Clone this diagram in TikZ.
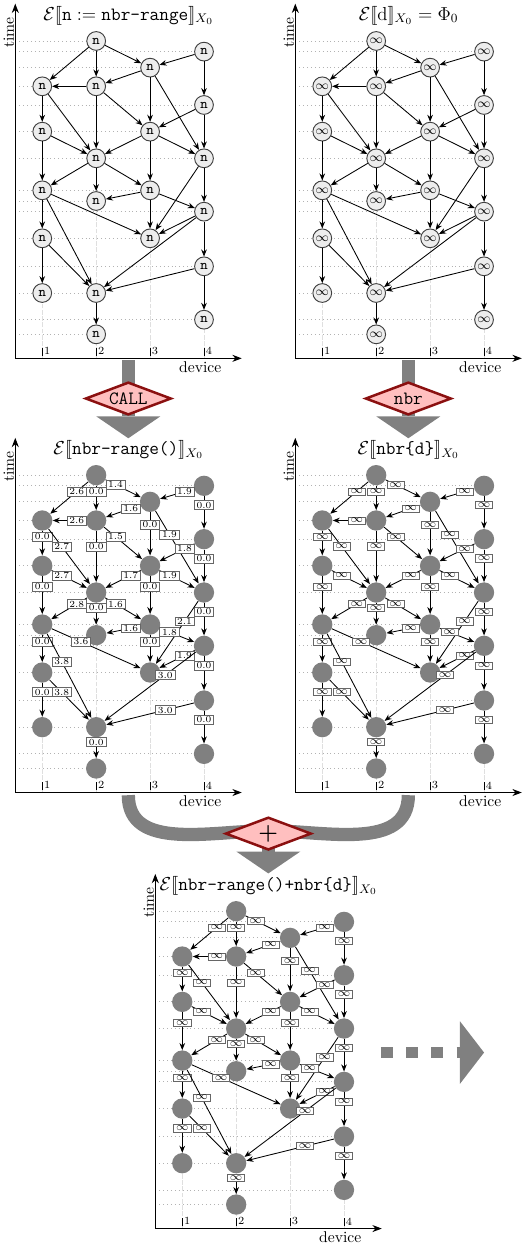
\documentclass[tikz,border=0pt]{standalone}
\usepackage{tikz}
\usetikzlibrary{arrows.meta,shapes.geometric}
\definecolor{OpRed}{HTML}{8B1010}
\definecolor{OpPink}{HTML}{FFBFBF}
\definecolor{Flow}{HTML}{808080}

\tikzset{
  evopen/.style={circle,draw=black!75,fill=black!7,line width=0.6pt,minimum size=12pt,inner sep=0pt},
  evfull/.style={circle,fill=Flow,minimum size=13pt,inner sep=0pt},
  ev/.style={-{Stealth[length=4.5pt,width=3.6pt]},line width=0.55pt},
  lbl/.style={draw=black!60,fill=white,line width=0.4pt,inner xsep=1.5pt,inner ysep=0.8pt,
    font=\fontsize{6}{7}\selectfont},
  axisarr/.style={-{Stealth[length=6pt,width=4.5pt]},line width=0.6pt},
  rowline/.style={dotted,gray!60,line width=0.5pt},
  devline/.style={gray!25,line width=0.5pt,dash pattern=on 3pt off 1pt},
  op/.style={diamond,aspect=2.5,draw=OpRed,fill=OpPink,line width=1.6pt,inner sep=0pt,
    minimum width=55pt,minimum height=21pt,font=\large\ttfamily},
  flow/.style={draw=Flow,line width=8.5pt,-{Triangle[width=41pt,length=14pt,line width=0pt]}},
  band/.style={draw=Flow,line width=8.5pt}
}

% events: name/device/height
\newcommand{\evlist}{b1/1.5/11.9, d1/3.5/11.5, c1/2.5/10.9, a1/0.5/10.2, b2/1.5/10.2,
  d2/3.5/9.5, a2/0.5/8.5, c2/2.5/8.5, b3/1.5/7.5, d3/3.5/7.5, a3/0.5/6.3, c3/2.5/6.3,
  b4/1.5/5.9, d4/3.5/5.5, a4/0.5/4.5, c4/2.5/4.5, d5/3.5/3.45, a5/0.5/2.45, b5/1.5/2.45,
  d6/3.5/1.45, b6/1.5/0.9}
% messages: from/to/distance
\newcommand{\edgelist}{b1/c1/1.4, b1/b2/0.0, b1/a1/2.6, d1/c1/1.9, d1/d2/0.0, c1/b2/1.6,
  c1/c2/0.0, c1/d3/1.9, b2/a1/2.6, b2/c2/1.5, b2/b3/0.0, a1/a2/0.0, a1/b3/2.7, d2/c2/1.8,
  d2/d3/0.0, a2/b3/2.7, a2/a3/0.0, c2/b3/1.7, c2/c3/0.0, c2/d3/1.9, b3/a3/2.8, b3/b4/0.0,
  b3/c3/1.6, d3/d4/0.0, d3/c4/2.1, c3/b4/1.6, c3/c4/0.0, c3/d4/1.8, a3/a4/0.0, a3/c4/3.6,
  a3/b5/3.8, d4/c4/1.9, d4/b5/3.0, d4/d5/0.0, a4/a5/0.0, a4/b5/3.8, d5/b5/3.0, d5/d6/0.0,
  b5/b6/0.0}

% #1 origin, #2 title, #3 event style, #4 event text, #5 message label
\newcommand{\evpanel}[5]{%
  \begin{scope}[shift={#1},x=1.213cm,y=0.6cm]
    % rows and device columns
    \foreach \nm/\dv/\tm in \evlist
      \draw[rowline] (0,\tm) -- (\dv,\tm);
    \foreach \dv/\tm in {0.5/10.2,1.5/11.9,2.5/10.9,3.5/11.5}
      \draw[devline] (\dv,0) -- (\dv,\tm);
    % axes
    \draw[axisarr] (0,0) -- (0,13.3);
    \draw[axisarr] (0,0) -- (4.2,0);
    \foreach \i in {1,...,4}{
      \draw[line width=0.5pt] (\i-0.5,0.08) -- (\i-0.5,0.38);
      \node[right,inner sep=1pt,font=\scriptsize] (tk\i) at (\i-0.5,0.27) {\i};
    }
    \node[rotate=90] (time) at (-0.12,12.22) {time};
    \node (dev) at (3.43,-0.33) {device};
    \node[font=\large] (ttl) at (2.1,12.86) {#2};
    % events and messages
    \foreach \nm/\dv/\tm in \evlist
      \node[#3] (\nm) at (\dv,\tm) {#4};
    \foreach \src/\dst/\val in \edgelist{
      \draw[ev] (\src) -- (\dst);
      \path (\src.center) -- (\dst.center) #5;
    }
  \end{scope}
}

\begin{document}
\begin{tikzpicture}
  \useasboundingbox (0,0) rectangle (11.745,-28.01);

  \evpanel{(0.344,-8.062)}{$\mathcal{E}[\![\texttt{n} := \texttt{nbr-range}]\!]_{X_0}$}
    {evopen}{\small\texttt{n}}{}
  \evpanel{(6.644,-8.062)}{$\mathcal{E}[\![\mathrm{d}]\!]_{X_0} = \Phi_0$}
    {evopen}{\footnotesize$\infty$}{}
  \evpanel{(0.344,-17.83)}{$\mathcal{E}[\![\texttt{nbr-range()}]\!]_{X_0}$}
    {evfull}{}{node[lbl,pos=.36]{\val}}
  \evpanel{(6.644,-17.83)}{$\mathcal{E}[\![\texttt{nbr\{d\}}]\!]_{X_0}$}
    {evfull}{}{node[lbl,pos=.36,font=\scriptsize]{$\infty$}}
  \evpanel{(3.494,-27.64)}{$\mathcal{E}[\![\texttt{nbr-range()+nbr\{d\}}]\!]_{X_0}$}
    {evfull}{}{node[lbl,pos=.36,font=\scriptsize]{$\infty$}}

  % rewriting steps
  \coordinate (callsrc) at (2.887,-8.1);
  \coordinate (calltip) at (2.887,-9.86);
  \draw[flow] (callsrc) -- (calltip);
  \node[op] (call) at (2.887,-8.966) {CALL};

  \coordinate (nbrsrc) at (9.187,-8.1);
  \coordinate (nbrtip) at (9.187,-9.86);
  \draw[flow] (nbrsrc) -- (nbrtip);
  \node[op] (nbr) at (9.187,-8.966) {nbr};

  \coordinate (lsrc) at (2.887,-17.89);
  \coordinate (rsrc) at (9.187,-17.89);
  \coordinate (join) at (6.037,-18.69);
  \coordinate (plustip) at (6.037,-19.65);
  \draw[band] (lsrc) to[out=-90,in=180] (join) to[out=0,in=-90] (rsrc);
  \draw[flow] (join) -- (plustip);
  \node[op,font=\Large\bfseries] (plus) at (6.037,-18.754) {+};

  % and so on
  \coordinate (morefrom) at (8.566,-23.68);
  \coordinate (moreto) at (10.89,-23.68);
  \draw[flow,line width=7.4pt,dash pattern=on 7.7pt off 8.5pt,
    -{Triangle[width=40pt,length=15.4pt,line width=0pt]}] (morefrom) -- (moreto);
\end{tikzpicture}
\end{document}
